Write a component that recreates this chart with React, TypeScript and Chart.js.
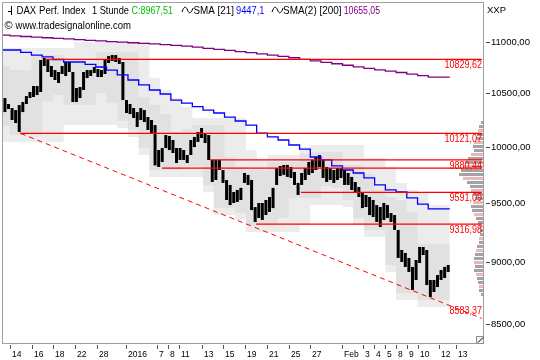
import React, { useEffect, useRef } from 'react';
import { Chart, registerables } from 'chart.js';

Chart.register(...registerables);

// ---------- axis ranges (trading-day units on x, price on log y) ----------
const X_MIN = -0.746;
const X_MAX = 44.103;
const Y_MIN = 8357.5;
const Y_MAX = 11413;

// ---------- hourly price bars, sampled 3 per trading day ----------
const BAR_START_DAY = -2 / 3;
const BARS_PER_DAY = 3;
const priceLow = [
  10387, 10321, 10350, 10246, 10218, 10135, 10321, 10397, 10454, 10464,
  10483, 10512, 10765, 10706, 10657, 10628, 10599, 10686, 10667, 10706,
  10416, 10416, 10454, 10531, 10647, 10667, 10696, 10657, 10657, 10686,
  10794, 10814, 10804, 10785, 10435, 10312, 10302, 10265, 10181, 10246,
  10227, 10153, 10125, 9830, 9816, 9861, 9987, 9969, 9942, 9852,
  9879, 9879, 9852, 9924, 9996, 10043, 10079, 10033, 9879, 9682,
  9700, 9789, 9674, 9524, 9480, 9498, 9507, 9524, 9674, 9656,
  9437, 9335, 9369, 9352, 9394, 9420, 9454, 9656, 9735, 9745,
  9727, 9718, 9656, 9568, 9656, 9700, 9745, 9762, 9789, 9816,
  9718, 9682, 9700, 9674, 9700, 9718, 9656, 9656, 9612, 9594,
  9550, 9454, 9463, 9394, 9377, 9335, 9292, 9352, 9369, 9335,
  9267, 9033, 9000, 8959, 8918, 8772, 8853, 8991, 9057, 8812,
  8716, 8756, 8796, 8853, 8869, 8918,
];
const priceHigh = [
  10464, 10454, 10397, 10359, 10340, 10387, 10416, 10473, 10512, 10570,
  10570, 10824, 10844, 10824, 10765, 10725, 10706, 10765, 10804, 10804,
  10706, 10550, 10560, 10706, 10725, 10725, 10755, 10735, 10725, 10824,
  10863, 10873, 10873, 10844, 10804, 10435, 10397, 10359, 10321, 10359,
  10340, 10274, 10246, 10199, 9969, 9987, 10107, 10098, 10061, 9987,
  9987, 9969, 9924, 10061, 10089, 10135, 10172, 10125, 10107, 9879,
  9879, 9879, 9789, 9700, 9656, 9594, 9612, 9630, 9762, 9745,
  9700, 9463, 9498, 9498, 9524, 9550, 9630, 9807, 9825, 9834,
  9834, 9816, 9771, 9674, 9762, 9807, 9861, 9879, 9906, 9924,
  9879, 9816, 9807, 9789, 9807, 9807, 9789, 9762, 9727, 9682,
  9638, 9586, 9568, 9550, 9524, 9480, 9463, 9498, 9480, 9411,
  9394, 9267, 9099, 9074, 9033, 8959, 9016, 9124, 9124, 9099,
  8853, 8853, 8893, 8934, 8959, 8975,
];

// ---------- daily series (first value = day -1) ----------
const DAY_START = -1;
const sma21 = [
  10954, 10923, 10923, 10899, 10873, 10854, 10829, 10804, 10804, 10780,
  10755, 10725, 10677, 10628, 10580, 10531, 10493, 10435, 10406, 10373,
  10340, 10312, 10274, 10237, 10199, 10125, 10089, 10061, 10015, 9978,
  9906, 9879, 9825, 9789, 9762, 9718, 9656, 9612, 9594, 9542,
  9489, 9447.1,
];
const sma200 = [
  11074, 11072, 11066, 11059, 11052, 11046, 11040, 11034, 11027, 11020,
  11014, 11008, 11002, 10996, 10990, 10984, 10978, 10970, 10961, 10951,
  10940, 10930, 10919, 10908, 10897, 10885, 10873, 10859, 10846, 10831,
  10816, 10801, 10787, 10772, 10757, 10742, 10727, 10714, 10701, 10686,
  10670, 10655.05,
];
const bandOuterTop = [
  10943, 10943, 10943, 10943, 10943, 10943, 10943, 10943, 11000, 11000,
  11000, 11000, 11000, 11000, 11000, 10647, 10531, 10454, 10369, 10265,
  10265, 10265, 10265, 10265, 9969, 9879, 9924, 9924, 9924, 9997,
  10015, 10015, 10015, 10015, 10015, 9897, 9897, 9816, 9674, 9612,
  9586, 9480,
];
const bandOuterBottom = [
  10061, 10042, 10042, 10042, 10042, 10042, 10042, 10200, 10200, 10200,
  10200, 10200, 10172, 10089, 9924, 9727, 9727, 9727, 9727, 9727,
  9594, 9394, 9394, 9352, 9250, 9250, 9250, 9250, 9250, 9309,
  9480, 9480, 9480, 9463, 9309, 9207, 9207, 8918, 8692, 8692,
  8637, 8637,
];
const bandInnerTop = [
  10804, 10765, 10725, 10725, 10873, 10873, 10873, 10834, 10834, 10785,
  10903, 10903, 10903, 10903, 10464, 10388, 10302, 10135, 10162, 10199,
  10199, 10199, 9906, 9816, 9789, 9789, 9861, 9861, 9861, 9933,
  9951, 9951, 9951, 9834, 9834, 9753, 9612, 9550, 9524, 9420,
  9149, 9149,
];
const bandInnerBottom = [
  10227, 10190, 10107, 10107, 10107, 10426, 10483, 10388, 10388, 10388,
  10502, 10407, 10237, 10153, 9987, 9789, 9789, 9789, 9825, 9825,
  9656, 9454, 9454, 9411, 9309, 9309, 9309, 9369, 9541, 9541,
  9541, 9647, 9630, 9524, 9369, 9267, 9267, 8975, 8748, 8748,
  8692, 8692,
];

// ---------- horizontal levels ----------
const levelValues = [10829.62, 10121.07, 9880.44, 9805, 9591.09, 9316.98];
const levelStartDay = [3.26, 0.93, 18.65, 14.17, 27.13, 22.94];
const levelLabels = ['10829,62', '10121,07', '9880,44', '', '9591,09', '9316,98'];
const LEVEL_END_DAY = 44.0;

// ---------- trend line ----------
const trendDays = [1.0, 44.0];
const trendValues = [10121.07, 8547];
const trendLabelValue = 8583.37;
const trendLabel = '8583,37';

// ---------- volume profile ----------
const profilePrices = [
  10237, 10199, 10162, 10125, 10089, 10052, 10015, 9978, 9942, 9906,
  9870, 9834, 9798, 9762, 9727, 9691, 9656, 9621, 9586, 9550,
  9515, 9480, 9446, 9411, 9377, 9343, 9309, 9275, 9241, 9207,
  9174, 9141, 9107, 9074, 9041, 9008, 8975, 8942, 8910, 8877,
  8845, 8812, 8780, 8748,
];
const profileVolumes = [
  2, 4, 5, 6, 7, 9, 10, 9, 12, 15,
  18, 20, 22, 24, 20, 16, 13, 12, 10, 8,
  10, 12, 11, 9, 7, 5, 4, 3, 3, 4,
  4, 6, 7, 8, 9, 9, 8, 9, 7, 6,
  5, 4, 4, 2,
];
const PROFILE_SCALE_MAX = 481;

// ---------- ticks ----------
const yTickValues = [11000, 10500, 10000, 9500, 9000, 8500];
const yTickLabels = ['11000,00', '10500,00', '10000,00', '9500,00', '9000,00', '8500,00'];
const xTickDays = [0, 2.02, 4.0, 6.03, 8.08, 10.82, 13.7, 14.76, 15.76, 17.87, 19.89, 21.91,
  23.93, 26.01, 27.97, 30.98, 32.94, 33.97, 34.97, 35.96, 36.99, 38.01, 40.0, 41.59];
const xTickLabels = ['14', '16', '18', '22', '28', '2016', '7', '8', '11', '13', '15', '19',
  '21', '25', '27', 'Feb', '3', '4', '5', '8', '9', '10', '12', '13'];

const FONT = '"Liberation Sans", Arial, sans-serif';

function dayPoints(vals: number[]) {
  const pts = vals.map((v, i) => ({ x: DAY_START + i, y: v }));
  pts.push({ x: DAY_START + vals.length, y: vals[vals.length - 1] });
  return pts;
}

const decorPlugin = {
  id: 'decor',
  afterDraw(chart: any) {
    const { ctx, chartArea: a } = chart;
    const xs = chart.scales.x;
    const ys = chart.scales.y;
    ctx.save();

    // frame
    ctx.strokeStyle = '#a0a0a0';
    ctx.lineWidth = 1;
    ctx.strokeRect(a.left + 0.5, a.top + 0.5, a.right - a.left, a.bottom - a.top);

    // resize grip in the bottom-right corner
    ctx.fillStyle = '#f4f4f4';
    ctx.fillRect(a.right - 7, a.bottom - 7, 7, 7);
    ctx.strokeStyle = '#909090';
    ctx.strokeRect(a.right - 6.5, a.bottom - 6.5, 7, 7);
    ctx.strokeStyle = '#000';
    ctx.beginPath();
    ctx.moveTo(a.right - 5, a.bottom - 0.5);
    ctx.lineTo(a.right, a.bottom - 5.5);
    ctx.stroke();

    // y axis ticks and labels
    ctx.font = '9.5px ' + FONT;
    ctx.textAlign = 'left';
    ctx.textBaseline = 'middle';
    yTickValues.forEach((v, i) => {
      const y = Math.round(ys.getPixelForValue(v)) + 0.5;
      ctx.strokeStyle = '#444';
      ctx.beginPath();
      ctx.moveTo(a.right + 3, y);
      ctx.lineTo(a.right + 7, y);
      ctx.stroke();
      ctx.fillStyle = '#000';
      ctx.fillText(yTickLabels[i], a.right + 8, y);
    });

    // x axis ticks and labels
    ctx.font = '8.5px ' + FONT;
    ctx.textBaseline = 'alphabetic';
    xTickDays.forEach((d, i) => {
      const x = Math.round(xs.getPixelForValue(d)) + 0.5;
      ctx.strokeStyle = '#555';
      ctx.beginPath();
      ctx.moveTo(x, a.bottom + 2);
      ctx.lineTo(x, a.bottom + 6);
      ctx.stroke();
      ctx.fillStyle = '#000';
      ctx.fillText(xTickLabels[i], x + 1.5, a.bottom + 14);
    });

    // level labels
    ctx.font = '11px ' + FONT;
    ctx.textAlign = 'right';
    ctx.fillStyle = '#ff0000';
    levelValues.forEach((v, i) => {
      const lab = levelLabels[i];
      if (!lab) return;
      const y = ys.getPixelForValue(v);
      const w = ctx.measureText(lab).width * 0.82;
      ctx.fillText(lab, a.right - 1, y + 9, w);
    });
    {
      const y = ys.getPixelForValue(trendLabelValue);
      const w = ctx.measureText(trendLabel).width * 0.82;
      ctx.fillText(trendLabel, a.right - 1, y + 0.5, w);
    }

    // header
    ctx.textAlign = 'left';
    ctx.font = '11px ' + FONT;
    const pieces: [string, number, number, string][] = [
      ['DAX Perf. Index', 16.5, 69, '#000'],
      ['1 Stunde', 92, 37, '#000'],
      ['C:8967,51', 131.5, 41.5, '#00c000'],
      ['SMA [21]', 193.5, 40.5, '#000'],
      ['9447,1', 236, 28.5, '#0000ff'],
      ['SMA(2) [200]', 283, 58.6, '#000'],
      ['10655,05', 343.7, 36.3, '#800080'],
    ];
    pieces.forEach(([t, x, w, c]) => {
      ctx.fillStyle = c;
      ctx.fillText(t, x, 14, w);
    });
    ctx.fillStyle = '#000';
    ctx.fillText('\u00a9', 4.5, 28.5);
    ctx.fillText('www.tradesignalonline.com', 15.5, 28.5, 115.5);

    // small bar icon
    ctx.strokeStyle = '#000';
    ctx.lineWidth = 1;
    ctx.beginPath();
    ctx.moveTo(11.5, 6);
    ctx.lineTo(11.5, 15);
    ctx.moveTo(8, 11.5);
    ctx.lineTo(11.5, 11.5);
    ctx.stroke();
    // wave icons
    [182, 272].forEach((x0) => {
      ctx.beginPath();
      ctx.moveTo(x0, 12);
      ctx.bezierCurveTo(x0 + 2, 6, x0 + 4, 6, x0 + 5.5, 10);
      ctx.bezierCurveTo(x0 + 7, 14, x0 + 9, 14, x0 + 11, 8);
      ctx.stroke();
    });

    // XXP
    ctx.font = '9.5px ' + FONT;
    ctx.fillStyle = '#000';
    ctx.fillText('XXP', a.right + 4, 13);

    ctx.restore();
  },
};

export default function App() {
  const ref = useRef<HTMLCanvasElement>(null);
  useEffect(() => {
    document.body.style.margin = '0';
    const canvas = ref.current;
    if (!canvas) return;

    const priceBars = priceLow.map((lo, i) => ({
      x: BAR_START_DAY + i / BARS_PER_DAY,
      y: [lo, priceHigh[i]],
    }));
    const profileData = profilePrices.map((p, i) => ({ x: profileVolumes[i], y: p }));
    const profileColors = profilePrices.map((_, i) => (i % 3 === 2 ? '#e6b8b8' : '#a3a3a3'));

    const lineBase = { pointRadius: 0, pointHoverRadius: 0, tension: 0 };

    const datasets: any[] = [
      { type: 'line', data: dayPoints(bandOuterTop), stepped: 'after', borderWidth: 0, fill: '+1', backgroundColor: '#ececec', order: 20, ...lineBase },
      { type: 'line', data: dayPoints(bandOuterBottom), stepped: 'after', borderWidth: 0, fill: false, order: 20, ...lineBase },
      { type: 'line', data: dayPoints(bandInnerTop), stepped: 'after', borderWidth: 0, fill: '+1', backgroundColor: '#e1e1e1', order: 19, ...lineBase },
      { type: 'line', data: dayPoints(bandInnerBottom), stepped: 'after', borderWidth: 0, fill: false, order: 19, ...lineBase },
      {
        type: 'bar', data: profileData, indexAxis: 'y', xAxisID: 'x2', yAxisID: 'y2',
        backgroundColor: profileColors, barThickness: 3, borderWidth: 0, inflateAmount: 0, order: 15,
      },
      {
        type: 'bar', data: priceBars, xAxisID: 'x', yAxisID: 'y',
        backgroundColor: '#000', barThickness: 3, borderWidth: 0, inflateAmount: 0, order: 10,
      },
      { type: 'line', data: dayPoints(sma200), stepped: 'after', borderColor: '#800080', borderWidth: 1.3, fill: false, order: 5, ...lineBase },
      { type: 'line', data: dayPoints(sma21), stepped: 'after', borderColor: '#0000ff', borderWidth: 1.3, fill: false, order: 5, ...lineBase },
      ...levelValues.map((v, i) => ({
        type: 'line',
        data: [{ x: levelStartDay[i], y: v }, { x: LEVEL_END_DAY, y: v }],
        borderColor: '#ff0000', borderWidth: 1.2, fill: false, order: 3, ...lineBase,
      })),
      {
        type: 'line',
        data: trendDays.map((d, i) => ({ x: d, y: trendValues[i] })),
        borderColor: '#ff0000', borderWidth: 1, borderDash: [5, 4], fill: false, order: 2, ...lineBase,
      },
    ];

    const noOffset = { offset: false, grid: { offset: false }, display: false };
    const chart = new Chart(canvas, {
      type: 'line',
      data: { datasets },
      options: {
        animation: false,
        responsive: false,
        devicePixelRatio: 1,
        events: [],
        layout: { padding: { left: 2, top: 2, right: 57, bottom: 17 } },
        plugins: { legend: { display: false }, tooltip: { enabled: false } },
        scales: {
          x: { type: 'linear', min: X_MIN, max: X_MAX, ...noOffset },
          y: { type: 'logarithmic', min: Y_MIN, max: Y_MAX, ...noOffset },
          x2: { type: 'linear', axis: 'x', min: 0, max: PROFILE_SCALE_MAX, reverse: true, ...noOffset },
          y2: { type: 'logarithmic', axis: 'y', min: Y_MIN, max: Y_MAX, ...noOffset },
        },
      } as any,
      plugins: [decorPlugin],
    } as any);
    return () => chart.destroy();
  }, []);

  return (
    <canvas ref={ref} width={540} height={360} style={{ display: 'block', width: 540, height: 360 }} />
  );
}
